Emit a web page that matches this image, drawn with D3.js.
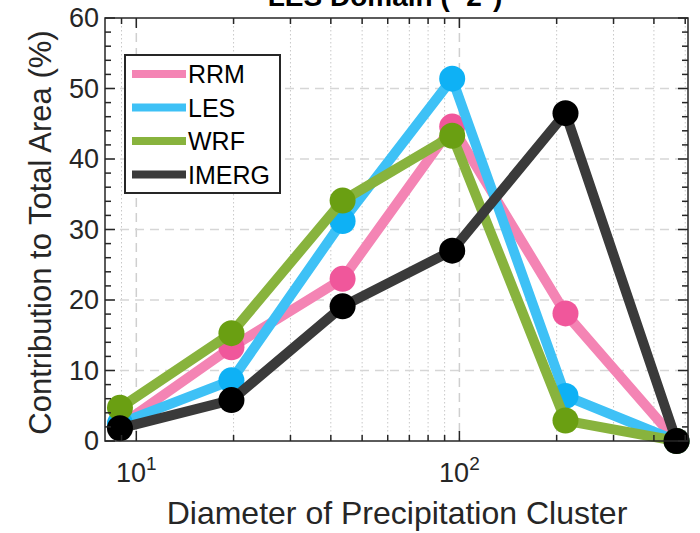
<!DOCTYPE html>
<html>
<head>
<meta charset="utf-8">
<script src="https://cdn.jsdelivr.net/npm/d3@7"></script>
<style>
  body { margin: 0; background: #fff; }
  text { font-family: "Liberation Sans", Arial, sans-serif; fill: #262626; }
</style>
</head>
<body>
<div id="chart"></div>
<script>
// data
const diameters = [8.9, 19.7, 43.5, 95, 213, 470];
const seriesNames = ["RRM", "LES", "WRF", "IMERG"];
const rrm = [2.2, 13.3, 23.0, 44.6, 18.1, 0];
const les = [2.5, 8.6, 31.2, 51.4, 6.4, 0];
const wrf = [4.7, 15.3, 34.1, 43.3, 2.9, 0];
const imerg = [1.8, 5.8, 19.1, 27.0, 46.5, 0];
const yTicks = [0, 10, 20, 30, 40, 50, 60];

const lineColors = ["#f484b4", "#3ec1f6", "#88b33d", "#3a3a3a"];
const dotColors = ["#f0579b", "#0eb1f5", "#6a9f12", "#000000"];
const allSeries = [rrm, les, wrf, imerg];

const W = 700, H = 533;
const plot = { left: 105, right: 688, top: 18, bottom: 441 };

const svg = d3.select("#chart").append("svg")
    .attr("width", W)
    .attr("height", H);

const x = d3.scaleLog().domain([8, 510]).range([plot.left, plot.right]);
const y = d3.scaleLinear().domain([0, 60]).range([plot.bottom, plot.top]);

// grid
const grid = svg.append("g");
const minorX = [];
[1, 10, 100].forEach(dec => {
    for (let k = 2; k <= 9; k++) {
        const v = dec * k;
        if (v > 8 && v < 510 && v !== 10 && v !== 100) minorX.push(v);
    }
});
grid.selectAll("line.minx").data(minorX).enter().append("line")
    .attr("x1", d => x(d)).attr("x2", d => x(d))
    .attr("y1", plot.top).attr("y2", plot.bottom)
    .attr("stroke", "#c8c8c8").attr("stroke-width", 1)
    .attr("stroke-dasharray", "1.5,2.5");
grid.selectAll("line.majx").data([10, 100]).enter().append("line")
    .attr("x1", d => x(d)).attr("x2", d => x(d))
    .attr("y1", plot.top).attr("y2", plot.bottom)
    .attr("stroke", "#cfcfcf").attr("stroke-width", 1.5)
    .attr("stroke-dasharray", "9,6");
grid.selectAll("line.majy").data(yTicks.slice(1, -1)).enter().append("line")
    .attr("x1", plot.left).attr("x2", plot.right)
    .attr("y1", d => y(d)).attr("y2", d => y(d))
    .attr("stroke", "#d6d6d6").attr("stroke-width", 1.5)
    .attr("stroke-dasharray", "9,6");

// series
const line = d3.line()
    .x((d, i) => x(diameters[i]))
    .y(d => y(d));

allSeries.forEach((vals, s) => {
    const g = svg.append("g");
    g.append("path")
        .datum(vals)
        .attr("d", line)
        .attr("fill", "none")
        .attr("stroke", lineColors[s])
        .attr("stroke-width", 10)
        .attr("stroke-linejoin", "round");
    g.selectAll("circle").data(vals).enter().append("circle")
        .attr("cx", (d, i) => x(diameters[i]))
        .attr("cy", d => y(d))
        .attr("r", 13)
        .attr("fill", dotColors[s]);
});

// axes box and ticks
const axis = svg.append("g");
axis.append("rect")
    .attr("x", plot.left).attr("y", plot.top)
    .attr("width", plot.right - plot.left).attr("height", plot.bottom - plot.top)
    .attr("fill", "none").attr("stroke", "#262626").attr("stroke-width", 1.5);

const xTickAll = minorX.concat([10, 100]);
xTickAll.forEach(v => {
    const len = (v === 10 || v === 100) ? 10 : 6;
    axis.append("line").attr("x1", x(v)).attr("x2", x(v))
        .attr("y1", plot.bottom).attr("y2", plot.bottom - len)
        .attr("stroke", "#262626").attr("stroke-width", 1.5);
    axis.append("line").attr("x1", x(v)).attr("x2", x(v))
        .attr("y1", plot.top).attr("y2", plot.top + len)
        .attr("stroke", "#262626").attr("stroke-width", 1.5);
});
d3.range(0, 61, 2).forEach(v => {
    const len = v % 10 === 0 ? 10 : 6;
    [[plot.left, 1], [plot.right, -1]].forEach(([x0, dir]) => {
        axis.append("line").attr("x1", x0).attr("x2", x0 + dir * len)
            .attr("y1", y(v)).attr("y2", y(v))
            .attr("stroke", "#262626").attr("stroke-width", 1.5);
    });
});

// tick labels
axis.selectAll("text.yt").data(yTicks).enter().append("text")
    .attr("x", plot.left - 6)
    .attr("y", d => y(d) + 9)
    .attr("text-anchor", "end")
    .attr("font-size", 27)
    .text(d => d);

[10, 100].forEach((v, i) => {
    const t = axis.append("text")
        .attr("x", x(v))
        .attr("y", plot.bottom + 41)
        .attr("text-anchor", "middle")
        .attr("font-size", 27);
    t.append("tspan").text("10");
    t.append("tspan").attr("dy", -12).attr("font-size", 19).text(i + 1);
});

// axis labels
svg.append("text")
    .attr("x", 397)
    .attr("y", 524)
    .attr("text-anchor", "middle")
    .attr("font-size", 32)
    .text("Diameter of Precipitation Cluster");

svg.append("text")
    .attr("transform", `translate(51,${(plot.top + plot.bottom) / 2 + 3}) rotate(-90)`)
    .attr("text-anchor", "middle")
    .attr("font-size", 31)
    .text("Contribution to Total Area (%)");

// title (cut off at top, as in the source)
svg.append("text")
    .attr("x", 385)
    .attr("y", 6)
    .attr("text-anchor", "middle")
    .attr("font-size", 28)
    .attr("font-weight", "bold")
    .style("fill", "#000")
    .text("LES Domain (~2°)");

// legend
const leg = svg.append("g");
leg.append("rect")
    .attr("x", 125).attr("y", 55).attr("width", 155).attr("height", 138)
    .attr("fill", "#fff").attr("stroke", "#262626").attr("stroke-width", 2);
seriesNames.forEach((name, i) => {
    const ly = 74 + i * 33.5;
    leg.append("line")
        .attr("x1", 132).attr("x2", 186)
        .attr("y1", ly).attr("y2", ly)
        .attr("stroke", lineColors[i]).attr("stroke-width", 8);
    leg.append("text")
        .attr("x", 188).attr("y", ly + 9)
        .attr("font-size", 25)
        .style("fill", "#000")
        .text(name);
});
</script>
</body>
</html>
